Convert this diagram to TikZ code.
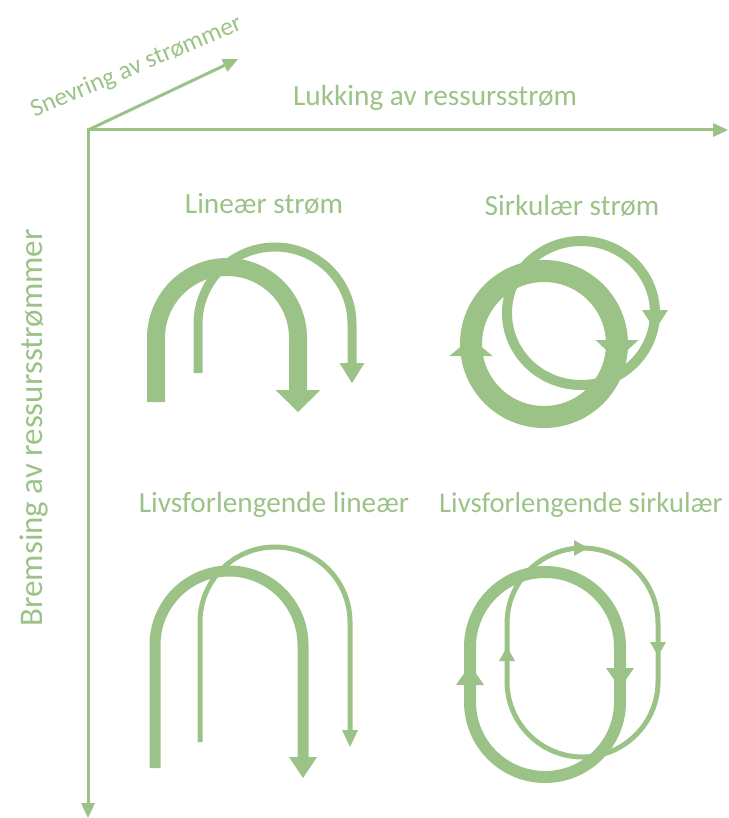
\documentclass[tikz,border=0pt]{standalone}
\usepackage{fontspec}
\setmainfont{Carlito}
\usepackage{tikz}
\usetikzlibrary{arrows.meta}

\definecolor{flow}{RGB}{155,195,135}

\begin{document}
\begin{tikzpicture}[x=1pt, y=-1pt,
  axis/.style={draw=flow, line width=3pt},
  lbl/.style={text=flow, font=\fontsize{29.3}{32}\selectfont, inner sep=0pt, anchor=base},
  band/.style={draw=flow, line width=#1pt},
  head/.style 2 args={-{Triangle[width=#1pt, length=#2pt, line width=0pt]}},
  axtip/.tip={Triangle[width=14pt, length=15pt, line width=0pt]}
]
\useasboundingbox (0,0) rectangle (728,818);

% axes
\coordinate (o) at (88,130);
\coordinate (xend) at (728,130);
\coordinate (yend) at (88,818);
\coordinate (zend) at (238,59);
\draw[axis, axtip-axtip] (xend) -- (o) -- (yend);
\draw[axis, -axtip] (o) -- (zend);

\node[lbl, rotate=23, font=\fontsize{25.5}{30}\selectfont] (snev) at (139,73) {Snevring av strømmer};
\node[lbl] (lukk) at (435,106) {Lukking av ressursstrøm};
\node[lbl, rotate=90, font=\fontsize{33}{36}\selectfont] (brems) at (42,428) {Bremsing av ressursstrømmer};

% quadrant titles
\node[lbl] (lin) at (264,214) {Lineær strøm};
\node[lbl] (sirk) at (572,215) {Sirkulær strøm};
\node[lbl] (livlin) at (274,512) {Livsforlengende lineær};
\node[lbl, anchor=base west, font=\fontsize{28.6}{32}\selectfont] (livsirk) at (439,512) {Livsforlengende sirkulær};

% lineaer strom
\draw[band=18, head={45}{22}] (156,402) -- (156,338) arc[start angle=180, end angle=360, radius=71] -- (298,412);
\draw[band=9, head={25}{20}] (198,373) -- (198,324) arc[start angle=180, end angle=360, radius=77] -- (352,383);

% sirkulaer strom
\draw[band=22] (544,344) circle[radius=73];
\draw[band=22, head={43}{18}] (471,356) -- (471,338);
\draw[band=22, head={43}{20}] (617,340) -- (617,360);
\draw[band=10] (581,313) circle[x radius=74, y radius=72];
\draw[band=10, head={26}{20}] (655,310) -- (655,330);

% livsforlengende lineaer
\draw[band=11, head={28}{21}] (155,768) -- (155,645) arc[start angle=180, end angle=360, radius=74] -- (303,778);
\draw[band=5, head={16}{17}] (200,742) -- (200,622) arc[start angle=180, end angle=360, radius=75] -- (350,747);

% livsforlengende sirkulaer
\draw[band=12] (470,702) -- (470,647) arc[start angle=180, end angle=360, radius=75]
  -- (620,702) arc[start angle=0, end angle=180, radius=75] -- cycle;
\draw[band=12, head={28}{20}] (470,685) -- (470,665);
\draw[band=12, head={28}{20}] (620,668) -- (620,688);
\draw[band=5] (507,681.5) -- (507,623.5) arc[start angle=180, end angle=360, radius=75.5]
  -- (658,681.5) arc[start angle=0, end angle=180, radius=75.5] -- cycle;
\draw[band=5, head={16}{14}] (572,548) -- (588,548);
\draw[band=5, head={16}{14}] (658,642) -- (658,656);
\draw[band=5, head={16}{14}] (507,661) -- (507,647);
\end{tikzpicture}
\end{document}
